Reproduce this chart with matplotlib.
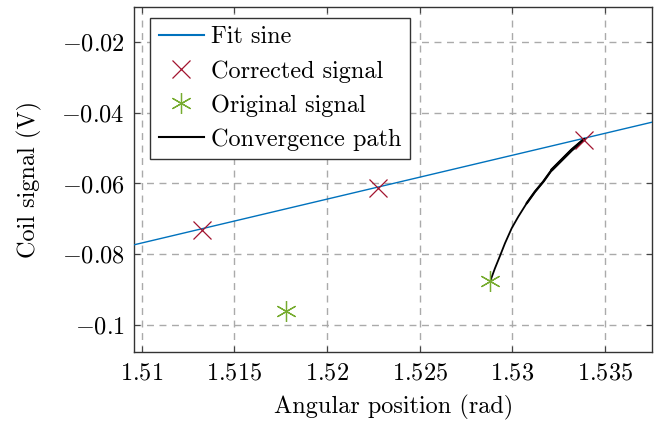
import numpy as np
import matplotlib
matplotlib.use('Agg')
import matplotlib.pyplot as plt
from matplotlib.lines import Line2D

plt.rcParams['font.family'] = 'serif'
plt.rcParams['font.serif'] = ['cmr10', 'DejaVu Serif']
plt.rcParams['mathtext.fontset'] = 'cm'
plt.rcParams['axes.formatter.use_mathtext'] = True

# fit sine (nearly straight over this window)
fit_x = [1.50961, 1.53754]
fit_y = [-0.07737, -0.04263]

# corrected signal
corr_x = [1.51327, 1.522745, 1.53387]
corr_y = [-0.07311, -0.06117, -0.04756]

# original signal
orig_x = [1.51777, 1.5288]
orig_y = [-0.09603, -0.08752]

# convergence path
path_x = [1.528832, 1.529064, 1.529334, 1.529604, 1.529966, 1.530322, 1.530775,
          1.531223, 1.531671, 1.532124, 1.532663, 1.533203, 1.533883]
path_y = [-0.087375, -0.084058, -0.08057, -0.076968, -0.072715, -0.069426, -0.065626,
          -0.062337, -0.0595, -0.056183, -0.053348, -0.050512, -0.047478]

xticks = [1.51, 1.515, 1.52, 1.525, 1.53, 1.535]
xticklabels = ['$1.51$', '$1.515$', '$1.52$', '$1.525$', '$1.53$', '$1.535$']
yticks = [-0.1, -0.08, -0.06, -0.04, -0.02]
yticklabels = ['$-0.1$', '$-0.08$', '$-0.06$', '$-0.04$', '$-0.02$']

blue = '#0072BD'
red = '#A2142F'
green = '#77AC30'
fs = 17.5

fig = plt.figure(figsize=(6.58, 4.24), dpi=100)
ax = fig.add_axes([0.2044, 0.1691, 0.9909 - 0.2044, 0.9842 - 0.1691])

ax.plot(fit_x, fit_y, color=blue, lw=1.0, zorder=3)
# path gets denser (thicker) towards the end
ax.plot(path_x, path_y, color='black', lw=1.3, zorder=4, solid_capstyle='round')
ax.plot(path_x[6:], path_y[6:], color='black', lw=1.7, zorder=4, solid_capstyle='round')
ax.plot(path_x[9:], path_y[9:], color='black', lw=2.2, zorder=4, solid_capstyle='round')
ax.plot(corr_x, corr_y, ls='none', marker='x', ms=13, mew=0.9, color=red, zorder=5)
ax.plot(orig_x, orig_y, ls='none', marker=(6, 2, 0), ms=15, mew=0.9, color=green, zorder=5)

ax.set_xlim(1.50961, 1.53754)
ax.set_ylim(-0.10788, -0.00988)
ax.set_xticks(xticks)
ax.set_xticklabels(xticklabels)
ax.set_yticks(yticks)
ax.set_yticklabels(yticklabels)
ax.tick_params(direction='in', length=4, width=0.8, labelsize=fs, color='#444444',
               top=True, right=True, pad=7)
ax.grid(True, ls=(0, (5, 4)), color='#aaaaaa', lw=1.0)
for s in ax.spines.values():
    s.set_linewidth(1.0)
    s.set_color('#333333')

ax.set_xlabel('Angular position (rad)', fontsize=fs, labelpad=8)
ax.set_ylabel('Coil signal (V)', fontsize=fs, labelpad=14)

handles = [
    Line2D([], [], color=blue, lw=1.5),
    Line2D([], [], ls='none', marker='x', ms=13, mew=0.9, color=red),
    Line2D([], [], ls='none', marker=(6, 2, 0), ms=15, mew=0.9, color=green),
    Line2D([], [], color='black', lw=1.5),
]
labels = ['Fit sine', 'Corrected signal', 'Original signal', 'Convergence path']
leg = ax.legend(handles, labels, loc='upper left', bbox_to_anchor=(0.0303, 0.968),
                fontsize=fs, fancybox=False, framealpha=1, edgecolor='#333333',
                borderaxespad=0, handlelength=1.85, handletextpad=0.3,
                labelspacing=0.48, borderpad=0.35)
leg.get_frame().set_linewidth(1.0)

plt.savefig('out.png', dpi=100)
